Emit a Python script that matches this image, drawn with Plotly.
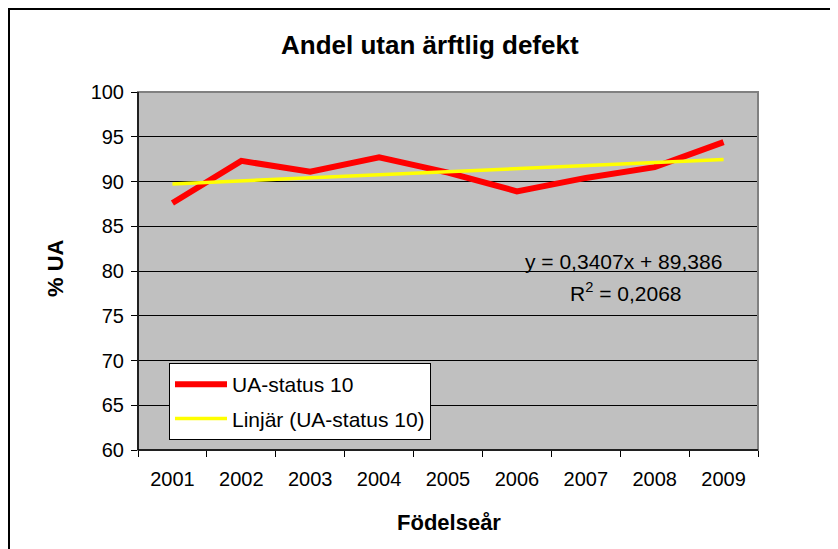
import plotly.graph_objects as go

years = ["2001", "2002", "2003", "2004", "2005", "2006", "2007", "2008", "2009"]
ua_status_10 = [87.6, 92.3, 91.1, 92.7, 91.0, 88.9, 90.4, 91.6, 94.4]
trend_slope = 0.3407
trend_intercept = 89.386
r_squared = 0.2068
y_ticks = [60, 65, 70, 75, 80, 85, 90, 95, 100]

trend_values = [trend_slope * (i + 1) + trend_intercept for i in range(len(years))]

FONT = "Liberation Sans, Arial, sans-serif"

fig = go.Figure()
fig.add_trace(go.Scatter(
    x=years, y=ua_status_10, mode="lines", name="UA-status 10", legendgroup="a",
    line=dict(color="#FF0000", width=6),
))
fig.add_trace(go.Scatter(
    x=years, y=trend_values, mode="lines", name="Linjär (UA-status 10)", legendgroup="b",
    line=dict(color="#FFFF00", width=3.5),
))

# the page body has an 8px margin, so the figure is drawn at (8, 8) in the window
OFF = 8
W, H = 838 - OFF, 549 - OFF
L, T = 138 - OFF, 92 - OFF
R = W - (758 - OFF)
B = H - (450 - OFF)
pw = W - L - R
ph = H - T - B

def px_x(x):  # window pixel -> paper
    return (x - OFF - L) / pw

def px_y(y):
    return (H - B - (y - OFF)) / ph

fig.update_layout(
    width=W, height=H,
    margin=dict(l=L, r=R, t=T, b=B, pad=0),
    paper_bgcolor="white",
    plot_bgcolor="#C0C0C0",
    font=dict(family=FONT, size=20, color="black"),
    showlegend=True,
    legend=dict(
        x=px_x(169), y=px_y(363), xanchor="left", yanchor="top",
        bgcolor="white", bordercolor="black", borderwidth=1,
        font=dict(size=21, family=FONT), tracegroupgap=4,
        itemwidth=52,
    ),
    xaxis=dict(
        type="category", tickson="boundaries", ticks="outside", ticklen=6,
        tickcolor="black", showline=True, linecolor="black", linewidth=1,
        showgrid=False, mirror=False, ticklabelstandoff=11,
        tickfont=dict(size=20), range=[-0.5, 8.5],
    ),
    yaxis=dict(
        range=[60, 100], tickvals=y_ticks, ticks="outside", ticklen=6,
        tickcolor="black", showline=True, linecolor="black", linewidth=1,
        showgrid=True, gridcolor="black", gridwidth=1, ticklabelstandoff=3,
        tickfont=dict(size=20), zeroline=False,
    ),
)

# plot area border (top / right gray)
fig.add_shape(type="rect", xref="paper", yref="paper", x0=0, x1=1, y0=0, y1=1,
              line=dict(color="#808080", width=2), layer="above")
fig.add_shape(type="line", xref="paper", yref="paper", x0=0, x1=0, y0=0, y1=1,
              line=dict(color="black", width=1.5), layer="above")
fig.add_shape(type="line", xref="paper", yref="paper", x0=0, x1=1, y0=0, y1=0,
              line=dict(color="black", width=1.5), layer="above")
# outer chart border
fig.add_shape(type="rect", xref="paper", yref="paper",
              x0=px_x(9), x1=1.5, y0=-0.6, y1=px_y(9),
              line=dict(color="black", width=2), layer="above")

# title
fig.add_annotation(xref="paper", yref="paper", x=px_x(430), y=px_y(45),
                   xanchor="center", yanchor="middle", showarrow=False,
                   text="<b>Andel utan ärftlig defekt</b>", font=dict(size=26, family=FONT))
# axis titles
fig.add_annotation(xref="paper", yref="paper", x=px_x(449), y=px_y(522),
                   xanchor="center", yanchor="middle", showarrow=False,
                   text="<b>Födelseår</b>", font=dict(size=22, family=FONT))
fig.add_annotation(xref="paper", yref="paper", x=px_x(55), y=px_y(268),
                   xanchor="center", yanchor="middle", showarrow=False, textangle=-90,
                   text="<b>% UA</b>", font=dict(size=22, family=FONT))

fig.add_annotation(
    xref="paper", yref="paper", x=px_x(623), y=px_y(261), xanchor="center", yanchor="middle",
    text=f"y = {str(trend_slope).replace('.', ',')}x + {str(trend_intercept).replace('.', ',')}",
    showarrow=False, font=dict(size=21, family=FONT),
)
fig.add_annotation(
    xref="paper", yref="paper", x=px_x(626), y=px_y(292), xanchor="center", yanchor="middle",
    text=f"R<sup>2</sup> = {str(r_squared).replace('.', ',')}",
    showarrow=False, font=dict(size=21, family=FONT),
)

fig.write_html("out.html")
